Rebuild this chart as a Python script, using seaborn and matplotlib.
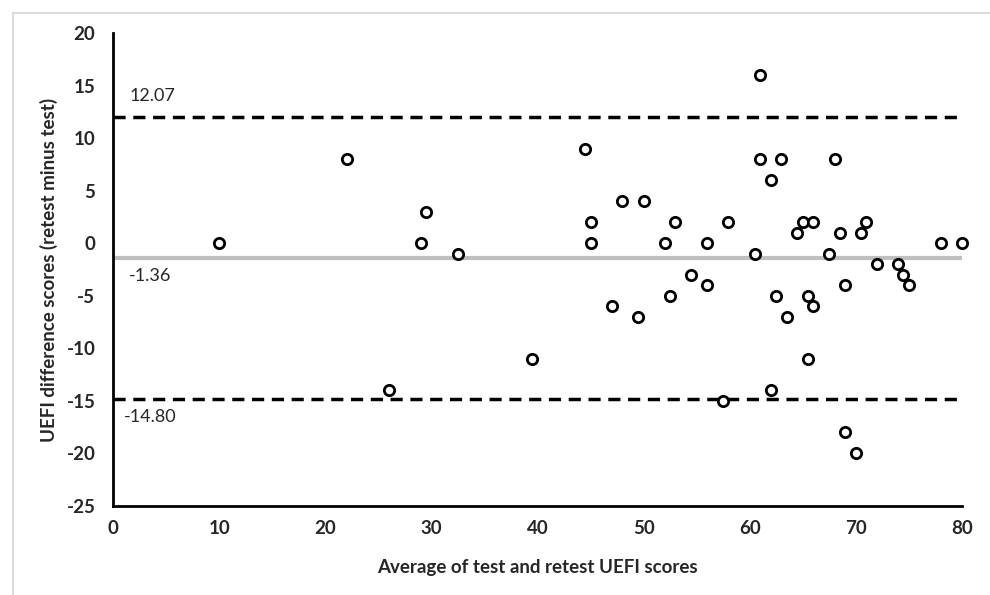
"""Bland-Altman plot: UEFI test-retest agreement."""
import matplotlib
matplotlib.use("Agg")
import matplotlib.pyplot as plt
from matplotlib.lines import Line2D
import seaborn as sns
import pandas as pd

# data
avg_scores = [10, 22, 29.5, 29, 32.5, 39.5, 26,
              61, 44.5, 61, 63, 68, 62, 48, 50, 45, 53, 58, 65, 66, 71,
              64.5, 68.5, 70.5, 45, 52, 56, 78, 80, 60.5, 67.5, 72, 74,
              74.5, 54.5, 75, 56, 69, 52.5, 62.5, 65.5, 66, 47, 49.5, 63.5,
              65.5, 62, 57.5, 69, 70]
diff_scores = [0, 8, 3, 0, -1, -11, -14,
               16, 9, 8, 8, 8, 6, 4, 4, 2, 2, 2, 2, 2, 2,
               1, 1, 1, 0, 0, 0, 0, 0, -1, -1, -2, -2,
               -3, -3, -4, -4, -4, -5, -5, -5, -6, -6, -7, -7,
               -11, -14, -15, -18, -20]
mean_diff = -1.36
upper_loa = 12.07
lower_loa = -14.80
x_ticks = [0, 10, 20, 30, 40, 50, 60, 70, 80]
y_ticks = [-25, -20, -15, -10, -5, 0, 5, 10, 15, 20]

df = pd.DataFrame({"avg": avg_scores, "diff": diff_scores})

sns.set_style("white")
plt.rcParams["font.family"] = ["Lato", "DejaVu Sans"]
plt.rcParams["axes.unicode_minus"] = False

fig = plt.figure(figsize=(9.9, 5.95), dpi=100)
# light frame (top and left edges only) like the source screenshot
x0, y0 = 12.5 / 990, 1 - 12.5 / 595
fig.add_artist(Line2D([x0, 1], [y0, y0], transform=fig.transFigure, color="#dcdcdc", linewidth=1.5))
fig.add_artist(Line2D([x0, x0], [0, y0], transform=fig.transFigure, color="#dcdcdc", linewidth=1.5))

ax = fig.add_axes([0.1145, 0.150, 0.857, 0.794])

ax.plot([0, 80], [upper_loa, upper_loa], color="black", linestyle=(0, (3.5, 2.2)), linewidth=2.5, zorder=1)
ax.plot([0, 80], [lower_loa, lower_loa], color="black", linestyle=(0, (3.5, 2.2)), linewidth=2.5, zorder=1)
ax.plot([0, 80], [mean_diff, mean_diff], color="#bfbfbf", linewidth=3, zorder=1)

sns.scatterplot(data=df, x="avg", y="diff", ax=ax, marker="o", s=55,
                facecolor="white", edgecolor="black", linewidth=2, zorder=3, clip_on=False)

ax.text(1.5, upper_loa + 1.2, f"{upper_loa:.2f}", fontsize=13, va="bottom", ha="left")
ax.text(1.5, mean_diff - 1.0, f"{mean_diff:.2f}", fontsize=13, va="top", ha="left")
ax.text(1.0, lower_loa - 1.0, f"{lower_loa:.2f}", fontsize=13, va="top", ha="left")

ax.set_xlim(0, 80)
ax.set_ylim(-25, 20)
ax.set_xticks(x_ticks)
ax.set_yticks(y_ticks)
ax.tick_params(axis="both", direction="out", length=6, width=2, color="black",
               labelsize=13.5, pad=4)
ax.tick_params(axis="y", pad=7)
for lab in ax.get_xticklabels() + ax.get_yticklabels():
    lab.set_fontweight("bold")

for side in ["top", "right"]:
    ax.spines[side].set_visible(False)
for side in ["left", "bottom"]:
    ax.spines[side].set_color("black")
    ax.spines[side].set_linewidth(2)

ax.set_xlabel("Average of test and retest UEFI scores", fontsize=13.5, fontweight="bold", labelpad=16)
ax.set_ylabel("UEFI difference scores (retest minus test)", fontsize=13.5, fontweight="bold", labelpad=6)

fig.savefig("out.png", dpi=100)
